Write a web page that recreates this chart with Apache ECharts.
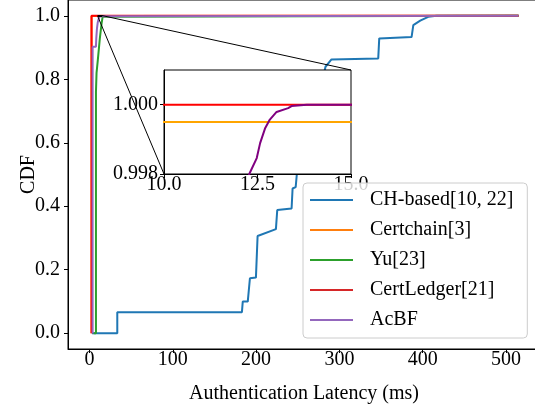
<!DOCTYPE html>
<html><head><meta charset="utf-8">
<script src="https://cdn.jsdelivr.net/npm/echarts@6/dist/echarts.min.js"></script>
<style>html,body{margin:0;padding:0;background:#fff}#c{width:535px;height:404px}</style>
</head><body><div id="c"></div>
<script>
// ---- data ----
const seriesNames = ['CH-based[10, 22]', 'Certchain[3]', 'Yu[23]', 'CertLedger[21]', 'AcBF'];

const chX = [3, 33.4, 33.4, 183, 184, 190, 192.6, 199.8, 201.8, 223.8, 225.4, 242.6, 243.8, 247.5, 249,
  255, 260, 265, 272, 280, 283.3, 290.5, 346.6, 347.8, 386.6, 388.7, 397, 406.6, 416.7, 515];
const chY = [0, 0, 0.066, 0.066, 0.0995, 0.0995, 0.173, 0.175, 0.306, 0.328, 0.388, 0.393, 0.456, 0.46, 0.504,
  0.55, 0.62, 0.70, 0.76, 0.80, 0.8396, 0.8627, 0.866, 0.929, 0.933, 0.971, 0.985, 0.997, 1.0, 1.0];

const certchainX = [2.5, 2.5, 18, 18, 515];
const certchainY = [0, 0.9995, 0.9995, 1.0, 1.0];

const yuX = [5, 7.8, 7.8, 8.5, 10, 12.5, 14.5, 15.8, 16.5, 515];
const yuY = [0, 0, 0.76, 0.82, 0.86, 0.93, 0.975, 0.997, 1.0, 1.0];

const ledgerX = [2.5, 2.5, 515];
const ledgerY = [0, 1.0, 1.0];

const acbfX = [3.8, 3.8, 7.8, 8.2, 9, 10, 11, 12, 12.28, 12.48, 12.57, 12.70, 12.83, 13.01, 13.32, 13.41, 13.82, 515];
const acbfY = [0, 0.903, 0.903, 0.93, 0.96, 0.98, 0.99, 0.996, 0.998, 0.99846, 0.99889, 0.99931, 0.99957, 0.99979, 0.9999, 0.99996, 1.0, 1.0];

const xTicks = [0, 100, 200, 300, 400, 500];
const yTicks = [0, 0.2, 0.4, 0.6, 0.8, 1.0];
const insetXTicks = [10, 12.5, 15];
const insetYTicks = [0.998, 1.000];

// ---- styles ----
const FONT = 'Liberation Serif';
const mainColors = ['#1f77b4', '#ff7f0e', '#2ca02c', '#ff0000', '#9467bd'];
const legendColors = ['#1f77b4', '#ff7f0e', '#2ca02c', '#d62728', '#9467bd'];
const INSET = {left: 164, top: 70, width: 187, height: 104};

const zip = (xs, ys) => xs.map((x, i) => [x, ys[i]]);
const allX = [chX, certchainX, yuX, ledgerX, acbfX];
const allY = [chY, certchainY, yuY, ledgerY, acbfY];

const chart = echarts.init(document.getElementById('c'), null, {renderer: 'canvas'});

const mainSeries = seriesNames.map((n, i) => ({
  name: n, type: 'line', xAxisIndex: 0, yAxisIndex: 0,
  data: zip(allX[i], allY[i]), symbol: 'none', showSymbol: false,
  lineStyle: {color: mainColors[i], width: 2}, itemStyle: {color: mainColors[i]},
  z: 2, animation: false
}));
const insetDefs = [[1, '#ffa500'], [3, '#ff0000'], [4, '#800080']];
const insetSeries = insetDefs.map(([i, c]) => ({
  type: 'line', xAxisIndex: 1, yAxisIndex: 1,
  data: zip(allX[i], allY[i]), symbol: 'none', showSymbol: false, clip: true,
  lineStyle: {color: c, width: 2}, itemStyle: {color: c}, z: 5, animation: false
}));

const axisFont = {fontFamily: FONT, fontSize: 20, color: '#000'};

chart.setOption({
  animation: false,
  grid: [
    {left: 68, right: -5, top: 0, bottom: 55, show: true, borderColor: '#000', borderWidth: 1,
     backgroundColor: 'transparent', outerBoundsMode: 'none', containLabel: false},
    {left: INSET.left, top: INSET.top, width: INSET.width, height: INSET.height, show: true,
     borderColor: '#000', borderWidth: 1, backgroundColor: 'transparent', z: 4,
     outerBoundsMode: 'none', containLabel: false}
  ],
  xAxis: [
    {type: 'value', gridIndex: 0, min: -25.75, max: 540.75,
     name: 'Authentication Latency (ms)', nameLocation: 'middle', nameGap: 35,
     nameTextStyle: axisFont,
     axisLine: {show: true, onZero: false, lineStyle: {color: '#000', width: 1}},
     axisTick: {show: true, length: 4, customValues: xTicks, lineStyle: {color: '#000'}},
     axisLabel: {customValues: xTicks, margin: 1, ...axisFont, formatter: v => String(v)},
     splitLine: {show: false}},
    {type: 'value', gridIndex: 1, min: 10, max: 15, z: 4,
     axisLine: {show: true, onZero: false, lineStyle: {color: '#000', width: 1}},
     axisTick: {show: true, length: 4, customValues: insetXTicks, lineStyle: {color: '#000'}},
     axisLabel: {customValues: insetXTicks, margin: 1, ...axisFont, formatter: v => v.toFixed(1)},
     splitLine: {show: false}}
  ],
  yAxis: [
    {type: 'value', gridIndex: 0, min: -0.05, max: 1.05,
     name: 'CDF', nameLocation: 'middle', nameGap: 29, nameMoveOverlap: false, nameTextStyle: axisFont,
     axisLine: {show: true, onZero: false, lineStyle: {color: '#000', width: 1}},
     axisTick: {show: true, length: 4, customValues: yTicks, lineStyle: {color: '#000'}},
     axisLabel: {customValues: yTicks, margin: 8, ...axisFont, formatter: v => v.toFixed(1)},
     splitLine: {show: false}},
    {type: 'value', gridIndex: 1, min: 0.998, max: 1.001, z: 4,
     axisLine: {show: true, onZero: false, lineStyle: {color: '#000', width: 1}},
     axisTick: {show: true, length: 4, customValues: insetYTicks, lineStyle: {color: '#000'}},
     axisLabel: {customValues: insetYTicks, margin: 6, ...axisFont, formatter: v => v.toFixed(3)},
     splitLine: {show: false}}
  ],
  legend: {
    left: 303, top: 183, orient: 'vertical',
    data: seriesNames.map((n, i) => ({name: n, itemStyle: {color: legendColors[i]}})),
    icon: 'rect', itemWidth: 43, itemHeight: 2, itemGap: 10,
    textStyle: {fontFamily: FONT, fontSize: 20, color: '#000', lineHeight: 20, padding: [0, 0, 0, 12]},
    backgroundColor: 'rgba(255,255,255,0.8)', borderColor: '#cccccc', borderWidth: 1, borderRadius: 4,
    padding: [7, 14, 8, 7], z: 10, selectedMode: false
  },
  series: mainSeries.concat(insetSeries)
});

// inset cover and connector lines, positions taken from the axes
const p = (g, v) => chart.convertToPixel({xAxisIndex: g, yAxisIndex: g}, v);
const rLL = p(0, [10, 0.998]), rUR = p(0, [15, 1.001]);
const iLL = p(1, [10, 0.998]), iUR = p(1, [15, 1.001]);
chart.setOption({
  graphic: [
    {type: 'rect', z: 3, silent: true,
     shape: {x: INSET.left, y: INSET.top, width: INSET.width, height: INSET.height},
     style: {fill: '#fff'}},
    {type: 'rect', z: 3, silent: true,
     shape: {x: rLL[0], y: rUR[1], width: rUR[0] - rLL[0], height: rLL[1] - rUR[1]},
     style: {fill: 'none', stroke: '#000', lineWidth: 1}},
    {type: 'line', z: 3, silent: true,
     shape: {x1: rLL[0], y1: rLL[1], x2: iLL[0], y2: iLL[1]}, style: {stroke: '#000', lineWidth: 1}},
    {type: 'line', z: 3, silent: true,
     shape: {x1: rUR[0], y1: rUR[1], x2: iUR[0], y2: iUR[1]}, style: {stroke: '#000', lineWidth: 1}}
  ]
});
</script></body></html>
